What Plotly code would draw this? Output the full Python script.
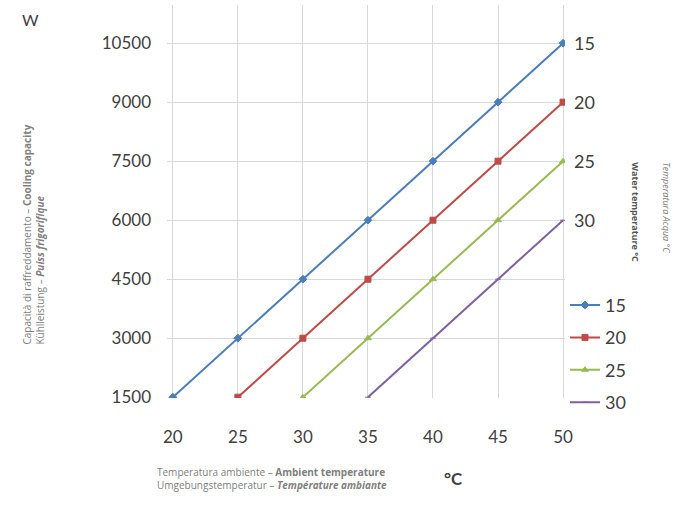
import plotly.graph_objects as go

ambient = [20, 25, 30, 35, 40, 45, 50]
water_temps = ["15", "20", "25", "30"]
cap_15 = [1500, 3000, 4500, 6000, 7500, 9000, 10500]
cap_20 = [1500, 3000, 4500, 6000, 7500, 9000]
cap_25 = [1500, 3000, 4500, 6000, 7500]
cap_30 = [1500, 3000, 4500, 6000]
y_ticks = [1500, 3000, 4500, 6000, 7500, 9000, 10500]
y_tick_text = ["1500", "3000", "4500", "6000", "7500", "9000", "10500"]

series = [
    ("15", ambient, cap_15, "#4a7ebb", "diamond"),
    ("20", ambient[1:], cap_20, "#be4b48", "square"),
    ("25", ambient[2:], cap_25, "#98b954", "triangle-up"),
    ("30", ambient[3:], cap_30, "#7d60a0", "line-ew"),
]

FONT = "Lato, 'Open Sans', sans-serif"
SFONT = "'Open Sans', sans-serif"
fig = go.Figure()
for name, xs, ys, col, sym in series:
    fig.add_trace(go.Scatter(
        x=xs, y=ys, name=name, mode="lines+markers",
        line=dict(color=col, width=2),
        marker=dict(symbol=sym, size=6 if sym != "line-ew" else 4, color=col,
                    line=dict(color=col, width=1)),
        legendgroup=name,
    ))
    fig.add_annotation(x=xs[-1], y=ys[-1], text=name, showarrow=False,
                       xanchor="left", xshift=9, font=dict(size=18, color="#404040", family=FONT))

grey = "#d9d9d9"
fig.update_layout(
    width=679, height=510,
    margin=dict(l=167, r=114, t=5, b=112),
    paper_bgcolor="white", plot_bgcolor="white",
    font=dict(family=FONT, color="#404040"),
    legend=dict(x=1.0, y=0.283, xanchor="left", yanchor="top",
                font=dict(size=18, color="#404040"), tracegroupgap=6,
                itemwidth=30, bgcolor="rgba(0,0,0,0)"),
    xaxis=dict(range=[19.55, 50.15], tickvals=ambient, showgrid=True, gridcolor=grey,
               gridwidth=1, zeroline=False, showline=False, ticks="",
               tickfont=dict(size=17, color="#404040"), ticklabelstandoff=27),
    yaxis=dict(range=[1480, 11470], tickvals=y_ticks, ticktext=y_tick_text, showgrid=True,
               gridcolor=grey, gridwidth=1, zeroline=False, showline=False, ticks="",
               tickfont=dict(size=17, color="#404040"), ticklabelstandoff=15),
)

small = dict(size=10, color="#808080", family=SFONT)
fig.add_annotation(xref="paper", yref="paper", x=-0.344, y=0.962, text="W", showarrow=False,
                   xanchor="center", yanchor="middle", font=dict(size=16, color="#404040", family=FONT))
fig.add_annotation(xref="paper", yref="paper", x=0.72, y=-0.205, text="<b>°C</b>", showarrow=False,
                   xanchor="center", yanchor="middle", font=dict(size=17, color="#404040", family=FONT))
fig.add_annotation(xref="paper", yref="paper", x=-0.03, y=-0.205,
                   text="Temperatura ambiente – <b>Ambient temperature</b><br>Umgebungstemperatur – <b><i>Température ambiante</i></b>",
                   showarrow=False, xanchor="left", yanchor="middle", align="left", font=small)
fig.add_annotation(xref="paper", yref="paper", x=-0.335, y=0.415,
                   text="Capacità di raffreddamento – <b>Cooling capacity</b><br>Kühlleistung – <b><i>Puiss frigorifique</i></b>",
                   showarrow=False, textangle=-90, xanchor="center", yanchor="middle", align="left", font=small)
fig.add_annotation(xref="paper", yref="paper", x=1.178, y=0.473,
                   text="<b>Water temperature °C</b>", showarrow=False, textangle=90,
                   xanchor="center", yanchor="middle", font=dict(size=9, color="#555555", family=SFONT))
fig.add_annotation(xref="paper", yref="paper", x=1.256, y=0.483,
                   text="<i>Temperatura Acqua °C</i>", showarrow=False, textangle=90,
                   xanchor="center", yanchor="middle", font=dict(size=9, color="#808080", family=SFONT))

fig.write_html("out.html", config={"displayModeBar": False},
               post_script="document.body.style.margin='0';")
